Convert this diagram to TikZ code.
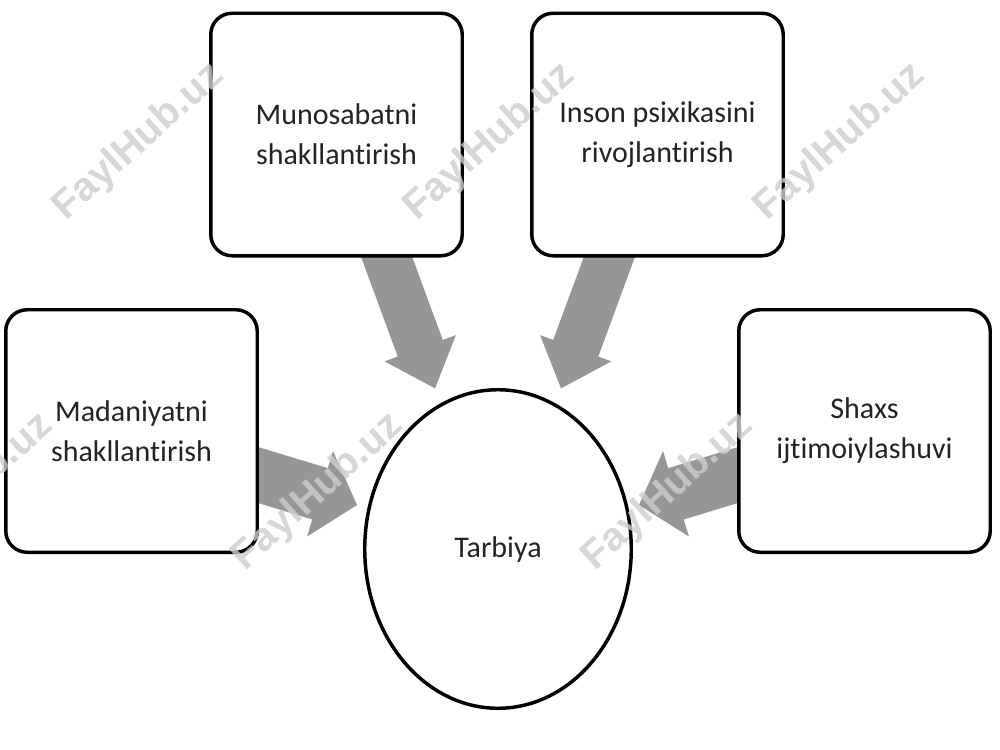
\documentclass[tikz,border=0pt]{standalone}
\usepackage{fontspec}
\setmainfont{Carlito}[Ligatures={NoCommon,NoContextual}]
\newfontfamily\wmfont{Liberation Sans}
\usetikzlibrary{calc,shapes.geometric}
\definecolor{arrowgray}{RGB}{150,150,150}
\definecolor{txtcol}{RGB}{35,35,35}
\definecolor{wmgray}{RGB}{205,205,205}
\newcommand\blkarrow[5]{%
  \path (#2) coordinate (tp) ($(#2)!#5!(#1)$) coordinate (hb);
  \fill[arrowgray]
    ($(#1)!#3!90:(#2)$) -- ($(hb)!#3!-90:(#1)$) -- ($(hb)!#4!-90:(#1)$) --
    (tp) -- ($(hb)!#4!90:(#1)$) -- ($(hb)!#3!90:(#1)$) --
    ($(#1)!#3!-90:(#2)$) -- cycle;
}
\tikzset{
  box/.style={draw=black, line width=2.6pt, rounded corners=16pt, fill=white,
    minimum width=188.6pt, minimum height=181.9pt, align=center,
    text=txtcol, font=\fontsize{22.5}{30}\selectfont, inner sep=0pt},
  oval/.style={ellipse, draw=black, line width=2.6pt, fill=white,
    minimum width=199.9pt, minimum height=238.9pt, inner sep=0pt,
    text=txtcol, font=\fontsize{22.5}{30}\selectfont},
  wm/.style={text=wmgray, opacity=0.8, rotate=42,
    font=\wmfont\bfseries\fontsize{30}{30}\selectfont}
}
\begin{document}
\begin{tikzpicture}[x=0.75pt,y=-0.75pt]
\useasboundingbox[fill=white] (0,0) rectangle (1000,750);
% arrow anchor points
\coordinate (s1) at (383.2,247.6);
\coordinate (t1) at (435,388.3);
\coordinate (s2) at (612.8,247.6);
\coordinate (t2) at (561,388.3);
\coordinate (s3) at (248.4,472.1);
\coordinate (t3) at (357,505);
\coordinate (s4) at (747.6,472.1);
\coordinate (t4) at (639,505);
\blkarrow{s1}{t1}{18pt}{28.5pt}{32pt}
\blkarrow{s2}{t2}{18pt}{28.5pt}{32pt}
\blkarrow{s3}{t3}{20.1pt}{33.45pt}{29pt}
\blkarrow{s4}{t4}{20.1pt}{33.45pt}{29pt}
% boxes
\node[box] (mad) at (131.5,431) {Madaniyatni\\shakllantirish};
\node[box] (mun) at (336.5,134.5) {Munosabatni\\shakllantirish};
\node[box] (ins) at (657.5,134.5) {Inson psixikasini\\rivojlantirish};
\node[box] (sha) at (864.5,431) {Shaxs\\ijtimoiylashuvi};
\node[oval] (tar) at (498,549) {Tarbiya};
% watermarks
\node[wm] (w1) at (139,142) {FaylHub.uz};
\node[wm] (w2) at (490,142) {FaylHub.uz};
\node[wm] (w3) at (840,142) {FaylHub.uz};
\node[wm] (w4) at (-32,492) {FaylHub.uz};
\node[wm] (w5) at (318,492) {FaylHub.uz};
\node[wm] (w6) at (668,492) {FaylHub.uz};
\end{tikzpicture}
\end{document}
